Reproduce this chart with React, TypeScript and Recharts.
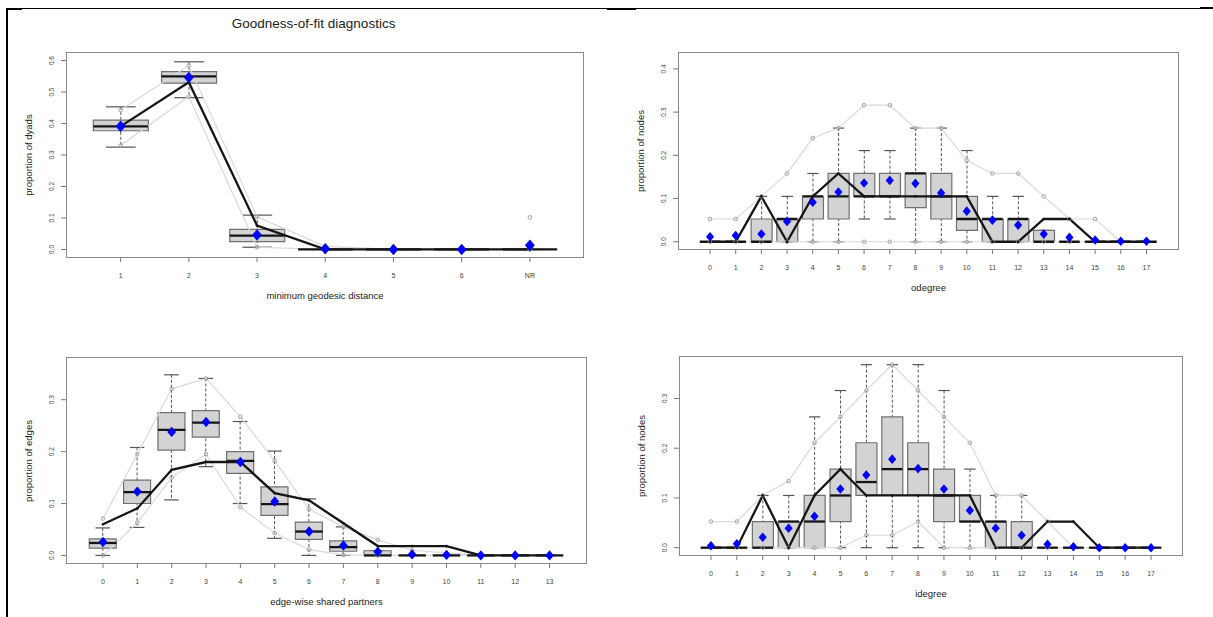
import React from "react";
import { ComposedChart, Bar, Line, XAxis, YAxis } from "recharts";

// minimum geodesic distance
const geoCats = ["1", "2", "3", "4", "5", "6", "NR"];
const geoObs = [0.391, 0.531, 0.076, 0, 0, 0, 0];
const geoMean = [0.391, 0.546, 0.046, 0.002, 0, 0, 0.013];
const geoLo = [0.325, 0.482, 0.007, 0, 0, 0, 0];
const geoQ1 = [0.377, 0.528, 0.025, 0, 0, 0, 0];
const geoMed = [0.391, 0.55, 0.044, 0, 0, 0, 0];
const geoQ3 = [0.411, 0.565, 0.064, 0, 0, 0, 0];
const geoHi = [0.453, 0.596, 0.109, 0, 0, 0, 0];
const geoMin = [0.33, 0.486, 0.007, 0, 0, 0, 0];
const geoMax = [0.443, 0.584, 0.104, 0.01, 0, 0, 0];
const geoOut = [null, null, null, null, null, null, 0.102];

// odegree
const degCats = ["0", "1", "2", "3", "4", "5", "6", "7", "8", "9", "10", "11", "12", "13", "14", "15", "16", "17"];
const odegObs = [0, 0, 0.105, 0, 0.105, 0.158, 0.105, 0.105, 0.105, 0.105, 0.105, 0, 0, 0.0526, 0.0526, 0, 0, 0];
const odegMean = [0.0115, 0.0146, 0.018, 0.047, 0.0915, 0.115, 0.136, 0.142, 0.135, 0.113, 0.0708, 0.05, 0.0385, 0.0177, 0.01, 0.004, 0.001, 0.001];
const odegLo = [0, 0, 0, 0, 0, 0, 0.0526, 0.0526, 0, 0, 0, 0, 0, 0, 0, 0, 0, 0];
const odegQ1 = [0, 0, 0, 0, 0.0526, 0.0526, 0.105, 0.105, 0.079, 0.0526, 0.0263, 0, 0, 0, 0, 0, 0, 0];
const odegMed = [0, 0, 0, 0.0526, 0.105, 0.105, 0.105, 0.105, 0.158, 0.105, 0.0526, 0.0526, 0.0526, 0, 0, 0, 0, 0];
const odegQ3 = [0, 0, 0.0526, 0.0526, 0.105, 0.158, 0.158, 0.158, 0.158, 0.158, 0.105, 0.0526, 0.0526, 0.0263, 0, 0, 0, 0];
const odegHi = [0, 0, 0.105, 0.105, 0.158, 0.263, 0.211, 0.211, 0.263, 0.263, 0.211, 0.105, 0.105, 0.0263, 0, 0, 0, 0];
const odegMin = [0, 0, 0, 0, 0, 0, 0, 0, 0, 0, 0, 0, 0, 0, 0, 0, 0, 0];
const odegMax = [0.0526, 0.0526, 0.105, 0.158, 0.24, 0.263, 0.316, 0.316, 0.263, 0.263, 0.188, 0.158, 0.158, 0.105, 0.0526, 0.0526, 0, 0];

// edge-wise shared partners
const espCats = ["0", "1", "2", "3", "4", "5", "6", "7", "8", "9", "10", "11", "12", "13"];
const espObs = [0.06, 0.0906, 0.165, 0.18, 0.18, 0.12, 0.106, 0.062, 0.018, 0.018, 0.018, 0, 0, 0];
const espMean = [0.026, 0.123, 0.238, 0.257, 0.18, 0.104, 0.046, 0.019, 0.007, 0.002, 0.001, 0, 0, 0];
const espLo = [0, 0.054, 0.107, 0.171, 0.1, 0.033, 0, 0, 0, 0, 0, 0, 0, 0];
const espQ1 = [0.014, 0.1, 0.203, 0.228, 0.158, 0.077, 0.031, 0.008, 0, 0, 0, 0, 0, 0];
const espMed = [0.024, 0.122, 0.242, 0.256, 0.182, 0.099, 0.046, 0.016, 0, 0, 0, 0, 0, 0];
const espQ3 = [0.032, 0.145, 0.275, 0.279, 0.2, 0.132, 0.064, 0.028, 0.009, 0, 0, 0, 0, 0];
const espHi = [0.053, 0.208, 0.348, 0.341, 0.258, 0.201, 0.109, 0.055, 0.009, 0, 0, 0, 0, 0];
const espMin = [0, 0.063, 0.15, 0.195, 0.093, 0.043, 0.011, 0.001, 0, 0, 0, 0, 0, 0];
const espMax = [0.071, 0.195, 0.321, 0.341, 0.267, 0.182, 0.089, 0.055, 0.03, 0.01, 0.005, 0, 0, 0];

// idegree
const idegObs = [0, 0, 0.105, 0, 0.105, 0.158, 0.105, 0.105, 0.105, 0.105, 0.105, 0, 0, 0.0526, 0.0526, 0, 0, 0];
const idegMean = [0.004, 0.008, 0.021, 0.039, 0.063, 0.118, 0.146, 0.178, 0.159, 0.118, 0.075, 0.039, 0.025, 0.007, 0.002, 0, 0, 0];
const idegLo = [0, 0, 0, 0, 0, 0, 0, 0, 0, 0, 0, 0, 0, 0, 0, 0, 0, 0];
const idegQ1 = [0, 0, 0, 0, 0, 0.0526, 0.105, 0.105, 0.105, 0.0526, 0.0526, 0, 0, 0, 0, 0, 0, 0];
const idegMed = [0, 0, 0, 0.0526, 0.0526, 0.105, 0.132, 0.158, 0.158, 0.105, 0.0526, 0.0526, 0, 0, 0, 0, 0, 0];
const idegQ3 = [0, 0, 0.0526, 0.0526, 0.105, 0.158, 0.211, 0.263, 0.211, 0.158, 0.105, 0.0526, 0.0526, 0, 0, 0, 0, 0];
const idegHi = [0, 0, 0.105, 0.105, 0.263, 0.316, 0.368, 0.368, 0.368, 0.316, 0.158, 0.105, 0.105, 0, 0, 0, 0, 0];
const idegMin = [0, 0, 0, 0, 0, 0, 0.025, 0.025, 0.0526, 0, 0, 0, 0, 0, 0, 0, 0, 0];
const idegMax = [0.0526, 0.0526, 0.105, 0.134, 0.211, 0.263, 0.316, 0.368, 0.316, 0.263, 0.211, 0.105, 0.105, 0.0526, 0, 0, 0, 0];

const FONT = '"Liberation Sans", Arial, sans-serif';
const Y_W = 30;
const X_H = 30;

function rowsOf(
  cats: string[], lo: number[], q1: number[], med: number[], q3: number[], hi: number[],
  mean: number[], obs: number[], mn: number[], mx: number[], out?: (number | null)[]
) {
  return cats.map((c, i) => ({
    cat: c,
    whisk: [lo[i], hi[i]],
    box: [q1[i], q3[i]],
    med: med[i],
    mean: mean[i],
    obs: obs[i],
    min: mn[i],
    max: mx[i],
    out: out ? out[i] : null,
  }));
}

const Whisker = (p: any) => {
  const { x, y, width, height } = p;
  if (x == null || y == null) return <g />;
  const cx = x + width / 2;
  const hw = width * 0.27;
  return (
    <g>
      <line x1={cx} x2={cx} y1={y} y2={y + height} stroke="#555" strokeWidth={1} strokeDasharray="3 2" />
      <line x1={cx - hw} x2={cx + hw} y1={y} y2={y} stroke="#555" strokeWidth={1.2} />
      <line x1={cx - hw} x2={cx + hw} y1={y + height} y2={y + height} stroke="#555" strokeWidth={1.2} />
    </g>
  );
};

const XTick = (p: any) => (
  <text x={p.x} y={p.y} dy={15.5} textAnchor="middle" fontSize={7} fill="#444" fontFamily={FONT}>
    {p.payload.value}
  </text>
);

const YTick = (p: any) => {
  const x = p.x - 7;
  return (
    <text x={x} y={p.y} transform={`rotate(-90, ${x}, ${p.y})`} textAnchor="middle" fontSize={6.5} fill="#444" fontFamily={FONT}>
      {Number(p.payload.value).toFixed(1)}
    </text>
  );
};

function Label({ x, y, text, size, rotate }: { x: number; y: number; text: string; size: number; rotate?: boolean }) {
  return (
    <div
      style={{
        position: "absolute",
        left: x,
        top: y,
        transform: `translate(-50%, -50%)${rotate ? " rotate(-90deg)" : ""}`,
        whiteSpace: "nowrap",
        fontSize: size,
        fontFamily: FONT,
        color: "#222",
        lineHeight: 1,
      }}
    >
      {text}
    </div>
  );
}

type PanelProps = {
  left: number;
  top: number;
  width: number;
  height: number;
  plot: { l: number; r: number; t: number; b: number };
  pad: { left: number; right: number };
  domain: [number, number];
  yTicks: number[];
  rows: any[];
  xTitle: string;
  yTitle: string;
  diamond: number;
};

function Panel({ left, top, width, height, plot, pad, domain, yTicks, rows, xTitle, yTitle, diamond }: PanelProps) {
  const band = (plot.r - plot.l - pad.left - pad.right) / rows.length;
  const hb = band * 0.4;

  const medDot = (p: any) => {
    if (p.cy == null) return <g key={p.index} />;
    return <line key={p.index} x1={p.cx - hb} x2={p.cx + hb} y1={p.cy} y2={p.cy} stroke="#151515" strokeWidth={2.3} />;
  };
  const meanDot = (p: any) => {
    if (p.cy == null) return <g key={p.index} />;
    const s = diamond;
    return (
      <path
        key={p.index}
        d={`M${p.cx},${p.cy - s}L${p.cx + s * 0.85},${p.cy}L${p.cx},${p.cy + s}L${p.cx - s * 0.85},${p.cy}Z`}
        fill="#0000ff"
      />
    );
  };
  const ringDot = (p: any) => {
    if (p.cy == null) return <g key={p.index} />;
    return <circle key={p.index} cx={p.cx} cy={p.cy} r={1.8} fill="none" stroke="#999" strokeWidth={0.9} />;
  };
  const obsDot = (p: any) => {
    if (p.cy == null) return <g key={p.index} />;
    return <circle key={p.index} cx={p.cx} cy={p.cy} r={1.3} fill="#151515" />;
  };

  return (
    <>
      <div style={{ position: "absolute", left, top, width, height }}>
        <ComposedChart
          width={width}
          height={height}
          data={rows}
          barCategoryGap="10%"
          margin={{
            top: plot.t - top,
            left: plot.l - left - Y_W,
            right: left + width - plot.r,
            bottom: top + height - plot.b - X_H,
          }}
        >
          <XAxis
            xAxisId="a"
            dataKey="cat"
            type="category"
            padding={pad}
            height={X_H}
            interval={0}
            tickSize={5}
            tickMargin={0}
            axisLine={false}
            tickLine={{ stroke: "#777" }}
            tick={<XTick />}
          />
          <XAxis xAxisId="w" dataKey="cat" type="category" padding={pad} hide />
          <YAxis
            yAxisId="a"
            type="number"
            domain={domain}
            allowDataOverflow
            ticks={yTicks}
            interval={0}
            width={Y_W}
            tickSize={6}
            tickMargin={0}
            axisLine={false}
            tickLine={{ stroke: "#777" }}
            tick={<YTick />}
          />
          <YAxis yAxisId="w" type="number" domain={domain} allowDataOverflow hide />
          <Bar xAxisId="w" yAxisId="w" dataKey="whisk" shape={Whisker} isAnimationActive={false} />
          <Bar xAxisId="a" yAxisId="a" dataKey="box" fill="#d3d3d3" stroke="#707070" strokeWidth={1.2} isAnimationActive={false} />
          <Line xAxisId="a" yAxisId="a" dataKey="med" stroke="none" dot={medDot} activeDot={false} isAnimationActive={false} />
          <Line xAxisId="a" yAxisId="a" dataKey="min" stroke="#d9d9d9" strokeWidth={1.2} dot={ringDot} activeDot={false} isAnimationActive={false} />
          <Line xAxisId="a" yAxisId="a" dataKey="max" stroke="#d9d9d9" strokeWidth={1.2} dot={ringDot} activeDot={false} isAnimationActive={false} />
          <Line xAxisId="a" yAxisId="a" dataKey="out" stroke="none" dot={ringDot} activeDot={false} isAnimationActive={false} />
          <Line xAxisId="a" yAxisId="a" dataKey="obs" stroke="#151515" strokeWidth={2.3} dot={obsDot} activeDot={false} isAnimationActive={false} />
          <Line xAxisId="a" yAxisId="a" dataKey="mean" stroke="none" dot={meanDot} activeDot={false} isAnimationActive={false} />
        </ComposedChart>
      </div>
      <div
        style={{
          position: "absolute",
          left: plot.l - 0.75,
          top: plot.t - 0.75,
          width: plot.r - plot.l + 1.5,
          height: plot.b - plot.t + 1.5,
          border: "1.5px solid #8a8a8a",
          boxSizing: "border-box",
          pointerEvents: "none",
        }}
      />
      <Label x={(plot.l + plot.r) / 2} y={plot.b + 39} text={xTitle} size={9.5} />
      <Label x={plot.l - 38} y={(plot.t + plot.b) / 2} text={yTitle} size={9.5} rotate />
    </>
  );
}

export default function App(): React.ReactElement {
  const geoRows = rowsOf(geoCats, geoLo, geoQ1, geoMed, geoQ3, geoHi, geoMean, geoObs, geoMin, geoMax, geoOut);
  const odegRows = rowsOf(degCats, odegLo, odegQ1, odegMed, odegQ3, odegHi, odegMean, odegObs, odegMin, odegMax);
  const espRows = rowsOf(espCats, espLo, espQ1, espMed, espQ3, espHi, espMean, espObs, espMin, espMax);
  const idegRows = rowsOf(degCats, idegLo, idegQ1, idegMed, idegQ3, idegHi, idegMean, idegObs, idegMin, idegMax);

  return (
    <div style={{ position: "absolute", left: 0, top: 0, width: 1213, height: 617, background: "#fff", overflow: "hidden" }}>
      {/* page frame */}
      <div style={{ position: "absolute", left: 6, top: 8, width: 1207, height: 1, background: "#000" }} />
      <div style={{ position: "absolute", left: 6, top: 8, width: 16, height: 2, background: "#000" }} />
      <div style={{ position: "absolute", left: 607, top: 8, width: 29, height: 2, background: "#000" }} />
      <div style={{ position: "absolute", left: 1200, top: 7, width: 13, height: 2, background: "#000" }} />
      <div style={{ position: "absolute", left: 6, top: 8, width: 2, height: 609, background: "#000" }} />

      <Label x={313.6} y={24} text="Goodness-of-fit diagnostics" size={13.5} />

      <Panel
        left={0} top={0} width={610} height={310}
        plot={{ l: 67, r: 583, t: 53, b: 257 }}
        pad={{ left: 19.5, right: 19 }}
        domain={[-0.024, 0.624]}
        yTicks={[0, 0.1, 0.2, 0.3, 0.4, 0.5, 0.6]}
        rows={geoRows}
        xTitle="minimum geodesic distance"
        yTitle="proportion of dyads"
        diamond={5.8}
      />
      <Panel
        left={610} top={0} width={603} height={310}
        plot={{ l: 679, r: 1178, t: 53, b: 249 }}
        pad={{ left: 18.2, right: 18.7 }}
        domain={[-0.0168, 0.4368]}
        yTicks={[0, 0.1, 0.2, 0.3, 0.4]}
        rows={odegRows}
        xTitle="odegree"
        yTitle="proportion of nodes"
        diamond={4.8}
      />
      <Panel
        left={0} top={310} width={610} height={307}
        plot={{ l: 67, r: 586, t: 358, b: 563 }}
        pad={{ left: 18.8, right: 19.3 }}
        domain={[-0.0146, 0.3804]}
        yTicks={[0, 0.1, 0.2, 0.3]}
        rows={espRows}
        xTitle="edge-wise shared partners"
        yTitle="proportion of edges"
        diamond={5.2}
      />
      <Panel
        left={610} top={310} width={603} height={307}
        plot={{ l: 680, r: 1182, t: 357, b: 555 }}
        pad={{ left: 18, right: 18 }}
        domain={[-0.0147, 0.3834]}
        yTicks={[0, 0.1, 0.2, 0.3]}
        rows={idegRows}
        xTitle="idegree"
        yTitle="proportion of nodes"
        diamond={4.8}
      />
</div>
  );
}
